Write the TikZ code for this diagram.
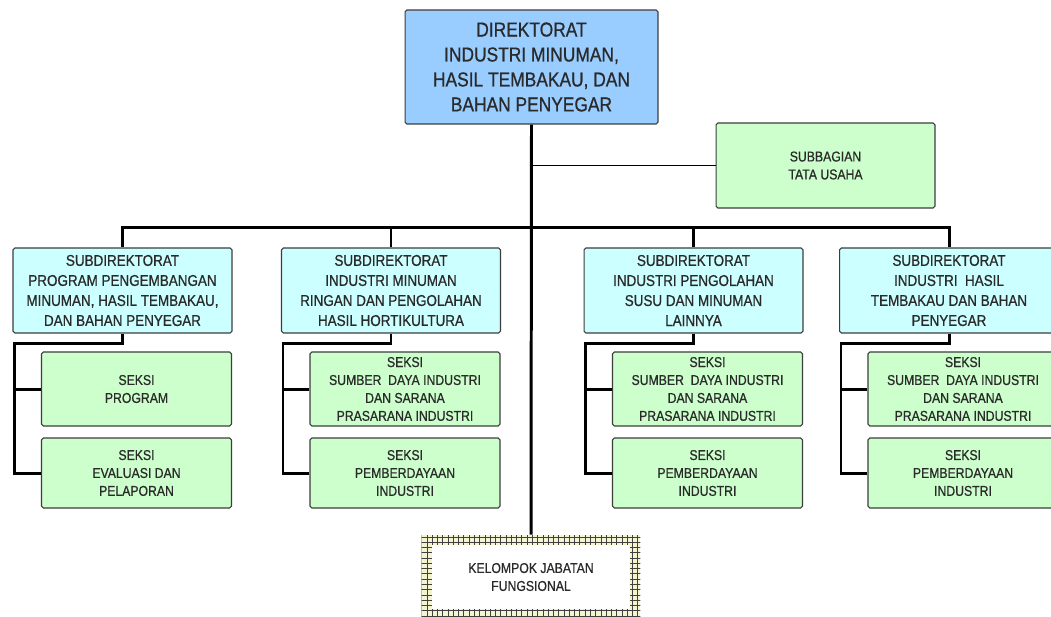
\documentclass[tikz,border=0pt]{standalone}
\usepackage{fontspec}
\setmainfont{Liberation Sans}[FakeStretch=0.86,FakeBold=0.7]
\usetikzlibrary{calc,positioning,patterns}
\definecolor{biru}{HTML}{99CCFF}
\definecolor{birumuda}{HTML}{CCFFFF}
\definecolor{hijau}{HTML}{CCFFCC}
\definecolor{kuning}{HTML}{F4F4D0}
\definecolor{teks}{HTML}{2A2A2A}
\definecolor{tepi}{HTML}{3C3C3C}
\newcommand{\kolom}[5]{
\node[subdir] (#1) at (#2,290.5) {#3};
\node[seksi, minimum height=1.48cm] (#1a) at ($(#1.west)+(124,98.5)$) {#4};
\node[seksi, minimum height=1.4cm] (#1b) at ($(#1.west)+(124,182.5)$) {#5};
\coordinate (#1t) at ($(#1.west)+(2,52.5)$);
\draw[garis] (#1.south) |- (#1t) |- (#1b.west);
\draw[garis] (#1t |- #1a.west) -- (#1a.west);
}

\begin{document}
\begin{tikzpicture}[x=0.02cm,y=-0.02cm,
	kotak/.style={draw=tepi, line width=0.6pt, rounded corners=1pt, align=center, text=teks, inner sep=0pt},
	dir/.style={kotak, fill=biru, minimum width=5.06cm, minimum height=2.28cm, font=\fontsize{11.5}{14.2}\selectfont},
	subdir/.style={kotak, fill=birumuda, minimum width=4.38cm, minimum height=1.7cm, font=\fontsize{8.9}{11.4}\selectfont},
	seksi/.style={kotak, fill=hijau, minimum width=3.8cm, font=\fontsize{8.1}{10.2}\selectfont},
	tu/.style={kotak, fill=hijau, minimum width=4.38cm, minimum height=1.7cm, font=\fontsize{8.1}{10.2}\selectfont},
	kjf/.style={align=center, text=teks, inner sep=0pt, minimum width=4.38cm, minimum height=1.68cm,
		preaction={fill=kuning}, pattern=grid, pattern color=black!75,
		path picture={\fill[white] ([shift={(0.2cm,0.2cm)}]path picture bounding box.south west) rectangle ([shift={(-0.2cm,-0.2cm)}]path picture bounding box.north east);},
		font=\fontsize{8.1}{10.2}\selectfont},
	garis/.style={line width=1.7pt, black},
	garistipis/.style={line width=1.1pt, black}]
\useasboundingbox[fill=white] (0,0) rectangle (1051,616);

\node[dir] (dir) at (531.5,67) {DIREKTORAT\\INDUSTRI MINUMAN,\\HASIL TEMBAKAU, DAN\\BAHAN PENYEGAR};
\node[tu] (tu) at (825.5,165.5) {SUBBAGIAN\\TATA USAHA};
\node[kjf] (kjf) at (531,577) {KELOMPOK JABATAN\\FUNGSIONAL};
\coordinate (bar) at (531,227);

\draw[garis] (dir.south) -- (kjf.north);
\draw[garistipis] (dir.south |- tu.west) -- (tu.west);

\kolom{sd1}{122.5}{SUBDIREKTORAT\\PROGRAM PENGEMBANGAN\\MINUMAN, HASIL TEMBAKAU,\\DAN BAHAN PENYEGAR}{SEKSI\\PROGRAM}{SEKSI\\EVALUASI DAN\\PELAPORAN}
\kolom{sd2}{391}{SUBDIREKTORAT\\INDUSTRI MINUMAN\\RINGAN DAN PENGOLAHAN\\HASIL HORTIKULTURA}{SEKSI\\SUMBER~ DAYA INDUSTRI\\DAN SARANA\\PRASARANA INDUSTRI}{SEKSI\\PEMBERDAYAAN\\INDUSTRI}
\kolom{sd3}{693.5}{SUBDIREKTORAT\\INDUSTRI PENGOLAHAN\\SUSU DAN MINUMAN\\LAINNYA}{SEKSI\\SUMBER~ DAYA INDUSTRI\\DAN SARANA\\PRASARANA INDUSTRI}{SEKSI\\PEMBERDAYAAN\\INDUSTRI}
\kolom{sd4}{949}{SUBDIREKTORAT\\INDUSTRI~ HASIL\\TEMBAKAU DAN BAHAN\\PENYEGAR}{SEKSI\\SUMBER~ DAYA INDUSTRI\\DAN SARANA\\PRASARANA INDUSTRI}{SEKSI\\PEMBERDAYAAN\\INDUSTRI}

\draw[garis] (sd1.north) |- (bar) -| (sd4.north);
\draw[garis] (sd2.north) -- (sd2.north |- bar);
\draw[garis] (sd3.north) -- (sd3.north |- bar);
\end{tikzpicture}
\end{document}
